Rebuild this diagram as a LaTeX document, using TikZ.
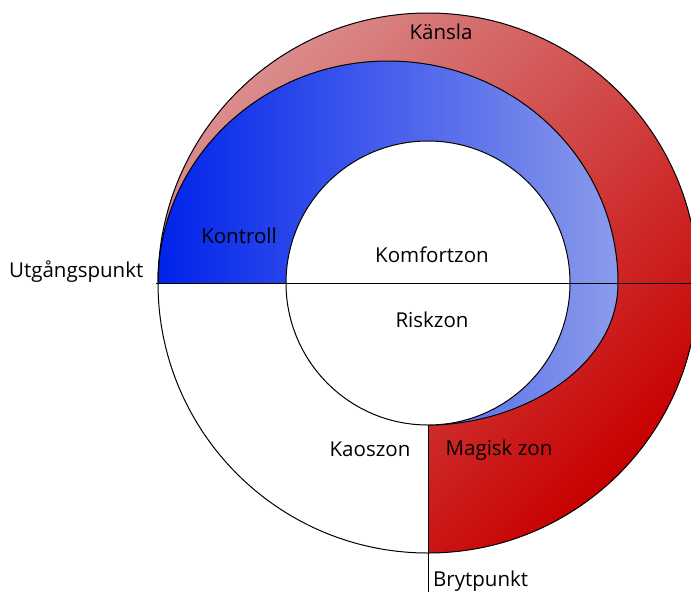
\documentclass[tikz,border=0pt]{standalone}
\usepackage{fontspec}
\setmainfont{Open Sans}
\definecolor{redlight}{RGB}{218,140,140}
\definecolor{reddeep}{RGB}{200,0,0}
\definecolor{bluedeep}{RGB}{0,35,235}
\definecolor{bluelight}{RGB}{140,155,235}
\begin{document}
\begin{tikzpicture}[x=1pt,y=1pt,
  lbl/.style={font=\fontsize{20.5}{24}\selectfont, text=black, inner sep=0pt},
  edge/.style={draw=black, line width=1pt}]
\useasboundingbox (0,0) rectangle (691,-595);
\clip (0,0) rectangle (691,-595);
\coordinate (C) at (428,-283);
\coordinate (L) at (158,-283);
\coordinate (LL) at (156,-283);
\coordinate (R) at (691,-283);
\coordinate (IB) at (428,-425);
\coordinate (BT) at (428,-592);
% red region (upper half + lower right quadrant)
\path[shading=axis, top color=redlight, bottom color=reddeep, shading angle=45]
  (L) arc[start angle=180, end angle=-90, radius=270] -- (C) -- cycle;
% blue region
\path[left color=bluedeep, right color=bluelight]
  (L) arc[start angle=180, end angle=0, x radius=230, y radius=222]
  .. controls (618,-368) and (520,-425) .. (IB)
  arc[start angle=-90, end angle=-180, radius=142] -- cycle;
\draw[edge] (L) arc[start angle=180, end angle=0, x radius=230, y radius=222]
  .. controls (618,-368) and (520,-425) .. (IB);
% inner circle
\draw[edge, fill=white] (C) circle[radius=142];
% big circle
\draw[edge] (C) circle[radius=270];
% lines
\draw[edge] (LL) -- (R);
\draw[edge] (IB) -- (BT);
% labels
\node[lbl] (kansla) at (441,-32) {Känsla};
\node[lbl] (kontroll) at (239,-236) {Kontroll};
\node[lbl, anchor=west] (utg) at (9,-272) {Utgångspunkt};
\node[lbl] (komfort) at (432,-255) {Komfortzon};
\node[lbl] (risk) at (432,-320) {Riskzon};
\node[lbl] (kaos) at (370,-449) {Kaoszon};
\node[lbl] (magisk) at (499,-450) {Magisk zon};
\node[lbl, anchor=west] (bryt) at (433,-581) {Brytpunkt};
\end{tikzpicture}
\end{document}
